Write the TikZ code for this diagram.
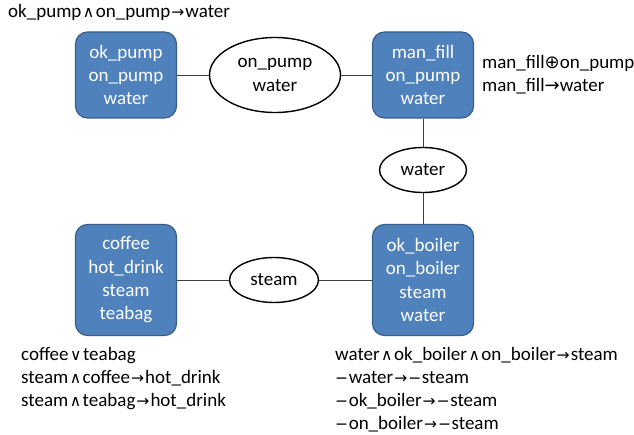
\documentclass[tikz,border=0pt]{standalone}
\usepackage{fontspec}
\setmainfont{Carlito}
\newfontfamily\simbolo[Scale=0.82]{DejaVu Sans}
\newfontfamily\simbologrande[Scale=0.95]{DejaVu Sans}
\usepackage{tikz}
\usetikzlibrary{shapes.geometric}
\definecolor{cajaazul}{RGB}{79, 129, 189}
\definecolor{bordeazul}{RGB}{56, 93, 138}
\definecolor{lineagris}{RGB}{64, 64, 64}
\newcommand{\letra}{\fontsize{19}{23.3}\selectfont}
\newcommand{\yy}{\kern1.5pt{\simbolo ∧}\kern1.5pt}
\newcommand{\oo}{\kern1.5pt{\simbolo ∨}\kern1.5pt}
\newcommand{\imp}{\kern1pt{\simbolo →}\kern1pt}
\newcommand{\impgrande}{{\simbologrande →}}
\newcommand{\xo}{{\simbologrande ⊕}}
\newcommand{\nop}{{\simbolo −}\kern0.5pt}

\begin{document}
\begin{tikzpicture}[x=1pt, y=-1pt,
            cajavar/.style={rectangle, rounded corners=12pt, draw=bordeazul, line width=1.2pt, fill=cajaazul, text=white, align=center, minimum width=101pt, font=\letra},
            separador/.style={ellipse, draw=black, line width=1.4pt, fill=white, align=center, inner sep=0pt, font=\letra},
            restriccion/.style={anchor=base west, inner sep=0pt, align=left, font=\letra},
            enlace/.style={draw=lineagris, line width=0.9pt}
        ]
            \useasboundingbox (0,0) rectangle (634,435);

            % Nodos
            \node (bomba) [cajavar, minimum height=86pt] at (126,75) {ok\_pump\\on\_pump\\water};
            \node (sepbomba) [separador, minimum width=131pt, minimum height=75pt] at (275,75) {on\_pump\\water};
            \node (llenado) [cajavar, minimum height=86pt] at (423,75) {man\_fill\\on\_pump\\water};
            \node (sepagua) [separador, minimum width=87pt, minimum height=45pt] at (423,170) {water};
            \node (caldera) [cajavar, minimum height=111pt] at (423,280) {ok\_boiler\\on\_boiler\\steam\\water};
            \node (sepvapor) [separador, minimum width=89pt, minimum height=45pt] at (274,280) {steam};
            \node (bebida) [cajavar, minimum height=111pt] at (126,280) {coffee\\hot\_drink\\steam\\teabag};

            % Restricciones (base = ultima linea)
            \node (resbomba) [restriccion] at (8,17.5) {ok\_pump\yy on\_pump\imp water};
            \node (resllenado) [restriccion] at (482,92) {man\_fill\xo on\_pump\\man\_fill\impgrande water};
            \node (resbebida) [restriccion] at (21,406.6) {coffee\oo teabag\\steam\yy coffee\imp hot\_drink\\steam\yy teabag\imp hot\_drink};
            \node (rescaldera) [restriccion] at (335,429.9) {water\yy ok\_boiler\yy on\_boiler\imp steam\\\nop water\imp\nop steam\\\nop ok\_boiler\imp\nop steam\\\nop on\_boiler\imp\nop steam};

            % Conexiones
            \draw [enlace] (bomba) -- (sepbomba);
            \draw [enlace] (sepbomba) -- (llenado);
            \draw [enlace] (llenado) -- (sepagua);
            \draw [enlace] (sepagua) -- (caldera);
            \draw [enlace] (caldera) -- (sepvapor);
            \draw [enlace] (sepvapor) -- (bebida);
        \end{tikzpicture}
\end{document}
